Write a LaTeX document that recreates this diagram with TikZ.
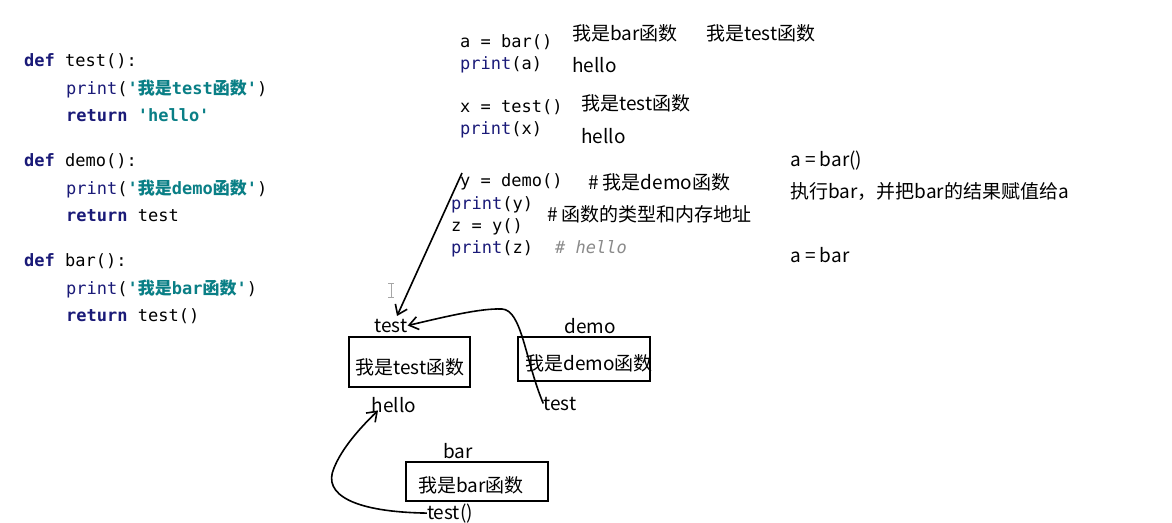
\documentclass[tikz,border=0pt]{standalone}
\usepackage{fontspec}
\usetikzlibrary{arrows.meta}
\setmainfont{Noto Sans CJK SC}
\newfontfamily\cjk{Noto Sans CJK SC}
\newfontfamily\codemono{DejaVu Sans Mono}
\definecolor{kwnavy}{HTML}{1A1A78}
\definecolor{strteal}{HTML}{0A7F86}
\definecolor{cmtgray}{HTML}{8A8A8A}
\newcommand{\kw}[1]{{\bfseries\color{kwnavy}#1}}
\newcommand{\pr}[1]{{\color{kwnavy}#1}}
\newcommand{\st}[1]{{\bfseries\color{strteal}#1}}
\newcommand{\zh}[1]{{\cjk\bfseries #1}}
\begin{document}
\begin{tikzpicture}[x=1pt,y=-1pt,
  lcode/.style={anchor=base west,inner sep=0pt,font=\codemono\fontsize{17}{20}\selectfont},
  mcode/.style={anchor=base west,inner sep=0pt,font=\codemono\fontsize{17}{20}\selectfont},
  note/.style={anchor=base west,inner sep=0pt,font=\cjk\fontsize{19}{22}\selectfont},
  lbl/.style={anchor=base,inner sep=0pt,font=\cjk\fontsize{19}{22}\selectfont},
  membox/.style={draw,line width=1.6pt},
  conn/.style={line width=1.6pt,-{Straight Barb[length=9pt,width=13pt,line width=1.6pt]}}]
\useasboundingbox (0,0) rectangle (1172,522);
\fill[white] (0,0) rectangle (1172,522);

% left code
\node[lcode] (l1) at (24,66) {\kw{def} test():};
\node[lcode] (l2) at (66,94) {\pr{print}(\st{'\zh{我是}test\zh{函数}'})};
\node[lcode] (l3) at (66,121) {\kw{return} \st{'hello'}};
\node[lcode] (l4) at (24,166) {\kw{def} demo():};
\node[lcode] (l5) at (66,194) {\pr{print}(\st{'\zh{我是}demo\zh{函数}'})};
\node[lcode] (l6) at (66,221) {\kw{return} test};
\node[lcode] (l7) at (24,266) {\kw{def} bar():};
\node[lcode] (l8) at (66,294) {\pr{print}(\st{'\zh{我是}bar\zh{函数}'})};
\node[lcode] (l9) at (66,321) {\kw{return} test()};

% middle code
\node[mcode] (m1) at (460,47) {a = bar()};
\node[mcode] (m2) at (460,69) {\pr{print}(a)};
\node[mcode] (m3) at (460,112) {x = test()};
\node[mcode] (m4) at (460,134) {\pr{print}(x)};
\node[mcode] (m5) at (460,186) {y = demo()};
\node[mcode] (m6) at (451,209) {\pr{print}(y)};
\node[mcode] (m7) at (451,231) {z = y()};
\node[mcode] (m8) at (451,253) {\pr{print}(z)};
\node[mcode] (m9) at (555,253) {\color{cmtgray}\itshape \# hello};

% annotations
\node[note] (n1) at (572,40) {我是bar函数};
\node[note] (n2) at (706,40) {我是test函数};
\node[note] (n3) at (572,72) {hello};
\node[note] (n4) at (581,110) {我是test函数};
\node[note] (n5) at (581,143) {hello};
\node[note] (n6) at (588,189) {\# 我是demo函数};
\node[note] (n7) at (547,221) {\# 函数的类型和内存地址};
\node[note] (r1) at (790,166) {a = bar()};
\node[note] (r2) at (790,198) {执行bar，并把bar的结果赋值给a};
\node[note] (r3) at (790,262) {a = bar};

% memory boxes
\draw[membox] (349,337) rectangle (470,387);
\node[lbl] (testtxt) at (410,374) {我是test函数};
\node[lbl] (testlbl) at (391,332) {test};
\node[lbl] (hello) at (394,412) {hello};

\draw[membox] (518,337) rectangle (650,381);
\node[lbl] (demotxt) at (589,370) {我是demo函数};
\node[lbl] (demolbl) at (590,333) {demo};
\node[lbl] (demoret) at (560,410) {test};

\draw[membox] (406,462) rectangle (548,501);
\node[lbl] (bartxt) at (471,492) {我是bar函数};
\node[lbl] (barlbl) at (458,458) {bar};
\node[lbl] (barret) at (450,519) {test()};

% cursor
\draw[gray!70,line width=0.8pt] (391,283) -- (391,297) (388,283) -- (394,283) (388,297) -- (394,297);

% connectors
\coordinate (ystart) at (462,173);
\draw[conn] (ystart) -- (397,316);
\draw[conn] (demoret.west) .. controls (525,360) and (522,310) .. (502,309)
   .. controls (480,308) and (440,318) .. (testlbl.east);
\draw[conn] (barret.west) .. controls (355,512) and (322,495) .. (334,468)
   .. controls (342,448) and (360,428) .. ([xshift=-16pt,yshift=2pt]hello.south);
\end{tikzpicture}
\end{document}
